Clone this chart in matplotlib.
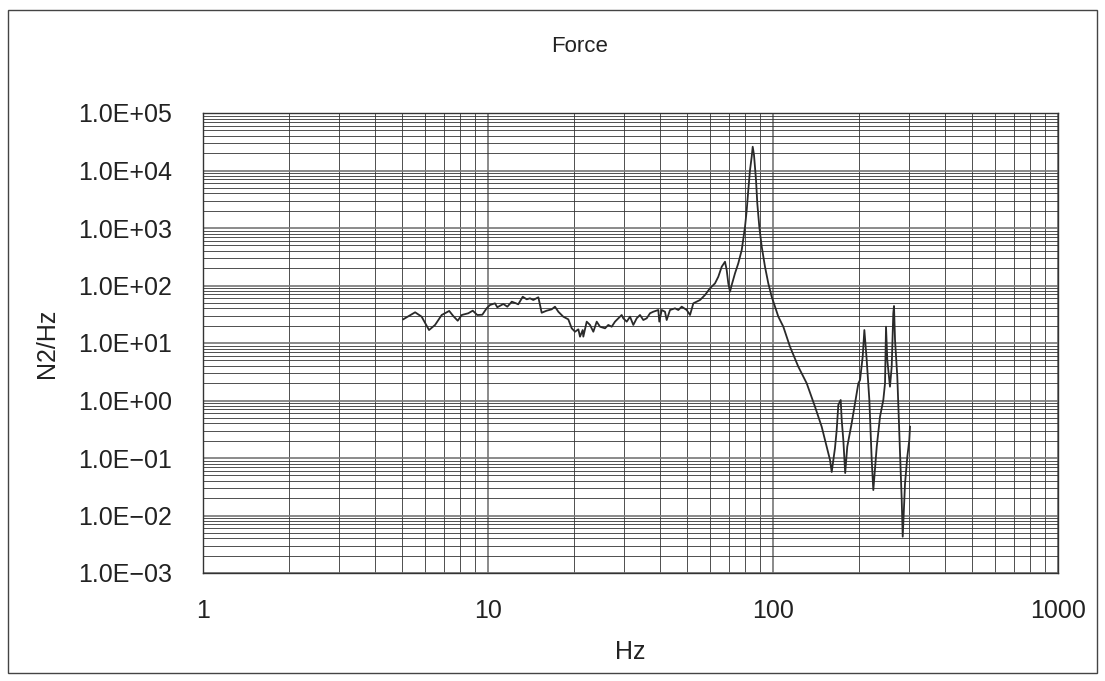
import numpy as np
import matplotlib.pyplot as plt
from matplotlib.ticker import FixedLocator, FuncFormatter, LogLocator, NullFormatter
from matplotlib.patches import Rectangle

plt.rcParams['font.family'] = ['Liberation Sans', 'DejaVu Sans']

# frequency (Hz) and PSD (N2/Hz)
freq = [5.04, 5.55, 5.85, 6.21, 6.52, 6.88, 7.31, 7.55, 7.83, 8.09,
        8.53, 8.84, 9.17, 9.55, 9.89, 10.16, 10.58, 10.78, 11.32, 11.69,
        12.12, 12.54, 12.77, 13.24, 13.67, 14.04, 14.42, 15.02, 15.43, 16.07,
        16.73, 17.18, 17.65, 18.37, 19.13, 19.67, 20.20, 20.75, 21.03, 21.49,
        21.60, 22.20, 22.80, 23.42, 24.07, 24.72, 25.74, 26.43, 27.16, 27.90,
        28.66, 29.45, 29.83, 30.67, 31.50, 32.35, 33.25, 34.15, 35.07, 36.05,
        37.02, 38.02, 39.59, 39.91, 40.69, 41.78, 42.36, 43.52, 45.31, 46.53,
        47.83, 49.80, 51.15, 52.54, 54.00, 55.46, 57.74, 60.11, 62.59, 64.28,
        66.07, 67.86, 68.79, 69.69, 70.65, 71.63, 73.57, 75.55, 77.67, 79.77,
        80.87, 81.91, 83.05, 84.20, 84.88, 85.77, 87.18, 88.08, 89.52, 91.29,
        93.74, 96.27, 98.95, 101.6, 104.4, 108.7, 114.7, 122.7, 131.3, 140.4,
        148.2, 154.3, 158.5, 160.7, 165.0, 167.3, 169.5, 172.8, 174.2, 176.5,
        179.2, 182.2, 188.8, 194.0, 199.3, 202.0, 206.4, 209.2, 213.2, 217.8,
        222.0, 224.9, 231.2, 237.4, 243.8, 247.2, 249.2, 251.8, 257.3, 260.9,
        264.3, 265.8, 268.0, 273.0, 277.5, 282.9, 285.2, 290.6, 296.0, 300.8,
        302.5]
psd = [25.8, 34.2, 28.7, 16.8, 20.6, 30.7, 36.1, 29.5, 24.4, 30.7,
       32.9, 36.5, 30.7, 31.0, 40.1, 45.8, 49.0, 41.8, 47.7, 42.8,
       52.3, 49.0, 47.1, 63.8, 57.5, 59.9, 56.0, 62.4, 33.6, 36.5,
       38.5, 42.8, 35.0, 28.7, 25.8, 18.0, 15.7, 17.3, 12.9, 16.8,
       12.9, 23.5, 20.6, 15.7, 23.5, 19.2, 18.0, 20.6, 19.2, 23.5,
       26.9, 30.7, 26.9, 23.5, 28.7, 20.6, 26.9, 30.7, 25.1, 26.9,
       32.9, 35.0, 37.5, 23.5, 37.5, 35.0, 25.1, 37.5, 40.1, 37.5,
       42.8, 37.5, 30.7, 49.0, 52.3, 56.0, 68.4, 89.4, 109, 142,
       212, 259, 186, 109, 78.0, 102, 163, 243, 414, 1054,
       2056, 4580, 10200, 17400, 25900, 18600, 6840, 2690, 1054, 473,
       212, 109, 63.8, 42.8, 28.7, 19.2, 8.63, 3.87, 1.99, 0.780,
       0.350, 0.157, 0.0923, 0.0571, 0.149, 0.307, 0.836, 1.02, 0.458, 0.206,
       0.0548, 0.157, 0.401, 0.893, 1.99, 2.27, 5.78, 16.8, 5.06, 1.02,
       0.0923, 0.0277, 0.157, 0.523, 1.02, 1.99, 19.2, 5.06, 1.74, 3.87,
       32.9, 44.0, 11.3, 2.59, 0.269, 0.0186, 0.00428, 0.0363, 0.105, 0.206,
       0.350]

ytick_vals = [1e-3, 1e-2, 1e-1, 1e0, 1e1, 1e2, 1e3, 1e4, 1e5]
xtick_vals = [1, 10, 100, 1000]


def efmt(v, pos):
    s = '%.1E' % v
    return s.replace('-', '\u2212')


fig = plt.figure(figsize=(11.05, 6.81), dpi=100)
ax = fig.add_axes([203/1105, 1-573/681, 855/1105, 460/681])

ax.plot(freq, psd, color='#2a2a2a', lw=1.3)

ax.set_xscale('log')
ax.set_yscale('log')
ax.set_xlim(1, 1000)
ax.set_ylim(1e-3, 1e5)

ax.xaxis.set_major_locator(FixedLocator(xtick_vals))
ax.xaxis.set_major_formatter(FuncFormatter(lambda v, p: '%g' % v))
ax.xaxis.set_minor_locator(LogLocator(base=10, subs=np.arange(2, 10)))
ax.xaxis.set_minor_formatter(NullFormatter())
ax.yaxis.set_major_locator(FixedLocator(ytick_vals))
ax.yaxis.set_major_formatter(FuncFormatter(efmt))
ax.yaxis.set_minor_locator(LogLocator(base=10, subs=np.arange(2, 10), numticks=20))
ax.yaxis.set_minor_formatter(NullFormatter())

ax.grid(True, which='major', color='#777777', lw=1.2)
ax.grid(True, which='minor', color='#333333', lw=0.6)
ax.set_axisbelow(True)
ax.tick_params(which='both', length=0, labelsize=18, colors='#222222')
ax.tick_params(axis='y', pad=22)
ax.tick_params(axis='x', pad=19)
for s in ax.spines.values():
    s.set_color('#333333')
    s.set_linewidth(1.0)

ax.set_xlabel('Hz', fontsize=18, color='#222222', labelpad=12)
ax.set_ylabel('N2/Hz', fontsize=18, color='#222222', labelpad=14)
fig.text(580/1105, 1-47/681, 'Force', fontsize=16, ha='center', va='center',
         color='#222222')

fig.patches.append(Rectangle((8/1105, 8/681), 1089/1105, 663/681,
                             transform=fig.transFigure, fill=False,
                             edgecolor='#444444', lw=1.0))

fig.savefig('out.png', dpi=100)
